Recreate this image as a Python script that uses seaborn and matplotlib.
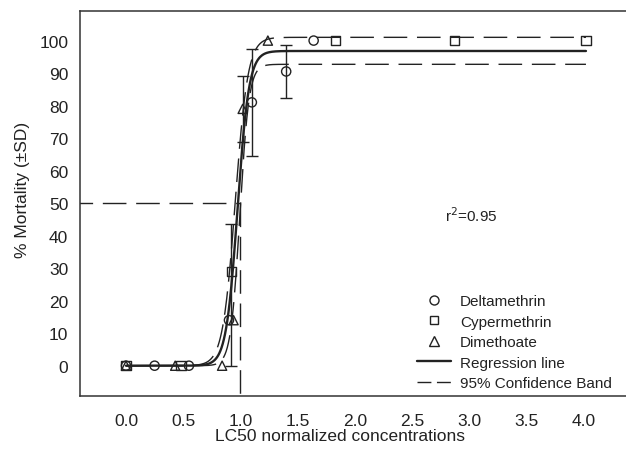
import matplotlib
matplotlib.use("Agg")
import matplotlib.pyplot as plt
import seaborn as sns
import numpy as np
import pandas as pd

sns.set_theme(style="white")
plt.rcParams['font.family'] = ['Liberation Sans', 'DejaVu Sans']
plt.rcParams.update({'font.size': 12.5})

ink = '#222222'

# observed mortality (%) vs LC50-normalized concentration
delta_x = [0.0, 0.25, 0.55, 0.90, 1.10, 1.40, 1.64]
delta_y = [0, 0, 0, 14, 81, 90.5, 100]
cyper_x = [0.0, 0.48, 0.92, 1.83, 2.87, 4.02]
cyper_y = [0, 0, 29, 100, 100, 100]
dime_x = [0.0, 0.43, 0.84, 0.94, 1.02, 1.24]
dime_y = [0, 0, 0, 14, 79, 100]

# error bars (x, y, lower, upper)
err_x = [1.10, 1.40, 0.92, 1.02]
err_y = [81, 90.5, 29, 79]
err_lo = [16.4, 8.2, 29, 10.2]
err_hi = [16.4, 8.2, 14.6, 10.2]

# logistic fit parameters (top, x50, slope) for regression and 95% band
reg_fit = (96.8, 0.975, 0.05)
band_hi = (101.0, 0.955, 0.055)
band_lo = (92.7, 0.995, 0.04)

fit_x = np.linspace(0.0, 4.02, 800)


def logistic(p):
    top, x50, s = p
    return top / (1 + np.exp(-(fit_x - x50) / s))


fig = plt.figure(figsize=(6.26, 4.56), dpi=100)
ax = fig.add_axes([80 / 626, 1 - 396.7 / 456, 546 / 626, (396.7 - 12) / 456])

# LC50 guide lines
ax.plot([-0.5, 1.0], [50, 50], color=ink, lw=1.0, dashes=(17, 7))
ax.plot([1.0, 1.0], [50, -20], color=ink, lw=1.0, dashes=(17, 7))

fits = pd.DataFrame({'x': fit_x, 'reg': logistic(reg_fit),
                     'hi': logistic(band_hi), 'lo': logistic(band_lo)})
sns.lineplot(data=fits, x='x', y='reg', ax=ax, color=ink, lw=1.7,
             estimator=None, sort=False)
for col in ['hi', 'lo']:
    sns.lineplot(data=fits, x='x', y=col, ax=ax, color=ink, lw=1.0,
                 linestyle=(0, (17, 7)), estimator=None, sort=False)

ax.errorbar(err_x, err_y, yerr=[err_lo, err_hi], fmt='none', ecolor=ink,
            elinewidth=1.0, capsize=4.3, capthick=1.0)

for xs, ys, m in [(delta_x, delta_y, 'o'), (cyper_x, cyper_y, 's'),
                  (dime_x, dime_y, '^')]:
    sns.scatterplot(x=xs, y=ys, ax=ax, marker=m, s=44, facecolor='none',
                    edgecolor=ink, linewidth=1.0, zorder=5)

ax.text(2.79, 46.4, 'r$^2$=0.95', ha='left', va='center', fontsize=11,
        color=ink)

ax.set_xlim(-0.402, 4.37)
ax.set_ylim(-9.23, 109.1)
ax.set_xticks(np.arange(0, 4.01, 0.5))
ax.set_xticklabels([f'{v:.1f}' for v in np.arange(0, 4.01, 0.5)])
ax.set_yticks(np.arange(0, 101, 10))
ax.tick_params(axis='both', direction='out', length=3.5, width=1.0,
               color=ink, labelcolor=ink, labelsize=12.5)
ax.tick_params(axis='y', pad=5)
ax.tick_params(axis='x', pad=9)

for side in ['left', 'bottom', 'top']:
    ax.spines[side].set_color('#333333')
    ax.spines[side].set_linewidth(1.1)
ax.spines['right'].set_visible(False)

ax.set_xlabel('LC50 normalized concentrations', fontsize=12.5, color=ink)
ax.set_ylabel('% Mortality (\u00b1SD)', fontsize=12.5, color=ink)
ax.xaxis.set_label_coords(0.477, -0.084)
ax.yaxis.set_label_coords(-0.092, 0.537)

handles = [
    plt.Line2D([], [], ls='none', marker='o', ms=6.5, mfc='none', mec=ink),
    plt.Line2D([], [], ls='none', marker='s', ms=6, mfc='none', mec=ink),
    plt.Line2D([], [], ls='none', marker='^', ms=6.5, mfc='none', mec=ink),
    plt.Line2D([], [], color=ink, lw=1.7),
    plt.Line2D([], [], color=ink, lw=1.0, dashes=(10, 4)),
]
labels = ['Deltamethrin', 'Cypermethrin', 'Dimethoate', 'Regression line',
          '95% Confidence Band']
fig.legend(handles, labels, loc='lower left',
           bbox_to_anchor=(417 / 626, 1 - 391 / 456), frameon=False,
           borderpad=0, borderaxespad=0, handlelength=2.2,
           handletextpad=0.6, labelspacing=0.42, fontsize=11,
           labelcolor=ink)

fig.savefig('out.png', dpi=100)
